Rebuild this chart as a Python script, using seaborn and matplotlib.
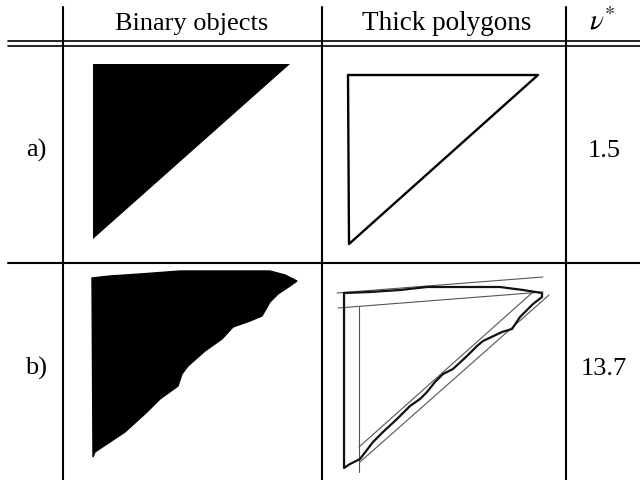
import matplotlib
matplotlib.use("Agg")
import matplotlib.pyplot as plt
import seaborn as sns

# column headers and row contents
headers = ["Binary objects", "Thick polygons", r"$\nu^{*}$"]
header_sizes = [19, 19.5, 21]
row_labels = ["a)", "b)"]
nu_values = ["1.5", "13.7"]

# a) clean triangle (pixel coordinates of the image)
bin_a_x = [93, 290, 93]
bin_a_y = [65, 65, 240]
poly_a_x = [348, 538, 349, 348]
poly_a_y = [76, 76, 245, 76]

# b) noisy triangle, binary object outline
bin_b_x = [92, 110, 140, 180, 230, 270, 285, 297, 290, 278, 270, 262, 250, 233, 222, 205,
           188, 182, 178, 160, 147, 125, 110, 95, 93, 92]
bin_b_y = [279, 277, 275, 272, 272, 272, 276, 282, 287, 295, 303, 317, 322, 328, 340, 352,
           367, 375, 387, 400, 413, 433, 443, 453, 458, 279]

# b) thick polygon (jagged contour)
poly_b_x = [344, 370, 400, 427, 470, 500, 523, 542, 542, 533, 520, 512, 502, 483, 477, 467,
            453, 443, 435, 427, 420, 410, 397, 383, 373, 360, 350, 344, 344]
poly_b_y = [294, 293, 291, 288, 288, 288, 291, 294, 298, 305, 318, 330, 333, 342, 347, 357,
            370, 375, 383, 393, 400, 407, 420, 433, 443, 460, 465, 469, 294]

# b) fitted thin lines (start/end points)
fit_x = [[337, 543], [338, 543], [359, 359], [359, 533], [360, 549], [344, 344]]
fit_y = [[294, 278], [309, 293], [308, 473], [448, 293], [463, 296], [294, 469]]

sns.set_theme(style="white")
plt.rcParams["font.family"] = ["Liberation Serif", "DejaVu Serif"]
plt.rcParams["mathtext.fontset"] = "stix"

fig = plt.figure(figsize=(6.4, 4.81), dpi=100)
ax = fig.add_axes([0, 0, 1, 1])

# table rules
for x in [63, 322, 566]:
    ax.plot([x, x], [8, 481], color="black", lw=1.5)
for y in [41.5, 46.5]:
    ax.plot([8, 640], [y, y], color="black", lw=1.2)
ax.plot([8, 640], [264, 264], color="black", lw=1.5)

# header
for txt, x, fs in zip(headers, [192, 447, 602], header_sizes):
    ax.text(x, 30, txt, ha="center", va="baseline", fontsize=fs, color="black")

# row labels and values
for lab, val, y in zip(row_labels, nu_values, [157, 375]):
    ax.text(36, y, lab, ha="center", va="baseline", fontsize=19, color="black")
    ax.text(604, y, val, ha="center", va="baseline", fontsize=19, color="black")

# binary objects
ax.fill(bin_a_x, bin_a_y, color="black", lw=0)
ax.fill(bin_b_x, bin_b_y, color="black", lw=1, edgecolor="black")

# thick polygons
sns.lineplot(x=poly_a_x, y=poly_a_y, sort=False, color="black", lw=1.7, ax=ax, estimator=None)
for xs, ys in zip(fit_x, fit_y):
    sns.lineplot(x=xs, y=ys, sort=False, color="#555555", lw=0.8, ax=ax, estimator=None)
sns.lineplot(x=poly_b_x, y=poly_b_y, sort=False, color="#111111", lw=1.6, ax=ax, estimator=None)

ax.set_xlim(0, 640)
ax.set_ylim(481, 0)
ax.axis("off")
fig.savefig("out.png", dpi=100)
